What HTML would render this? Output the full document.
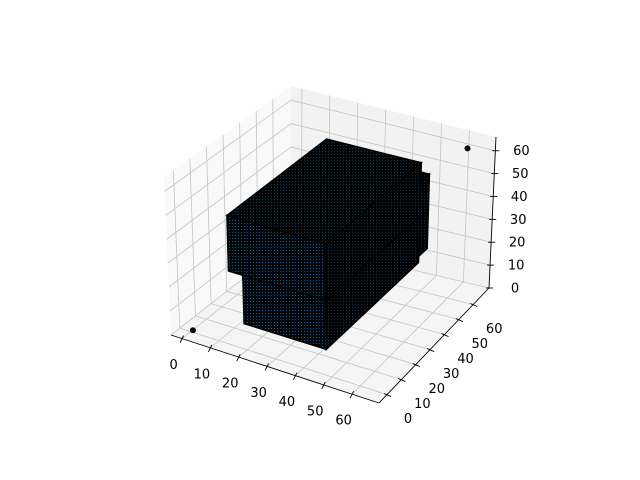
<!DOCTYPE html>
<html><head><meta charset="utf-8"><style>
html,body{margin:0;padding:0;background:#fff;}
svg{display:block;font-family:"DejaVu Sans","Liberation Sans",sans-serif;}
</style></head><body>
<svg id="chart" width="640" height="480" viewBox="0 0 640 480">
<defs>
<pattern id="dotsF" width="3" height="3" patternUnits="userSpaceOnUse"><rect width="3" height="3" fill="#02070b"/><rect x="1" y="1" width="1" height="1" fill="#155a88"/></pattern>
<pattern id="dotsT" width="3" height="3" patternUnits="userSpaceOnUse"><rect width="3" height="3" fill="#020406"/><rect x="1" y="1" width="1" height="1" fill="#0f3a58"/></pattern>
<pattern id="dotsR" width="3" height="3" patternUnits="userSpaceOnUse"><rect width="3" height="3" fill="#010203"/><rect x="1" y="1" width="1" height="1" fill="#0c3250"/></pattern>
</defs>
<g id="panes"></g>
<g id="grid"></g>
<g id="axes"></g>
<g id="voxels"></g>
</svg>
<script>
// data
const xTicks=[0,10,20,30,40,50,60];
const yTicks=[0,10,20,30,40,50,60];
const zTicks=[0,10,20,30,40,50,60];
const boxX0=[13,18,47];
const boxX1=[47,47,50];
const boxY0=[2,2,40];
const boxY1=[64,64,64];
const boxZ0=[29,9,16];
const boxZ1=[52,29,48];
const pointX=[0.5,63.5];
const pointY=[0.5,63.5];
const pointZ=[0.5,63.5];

const XL=[-3.9,69.5],YL=[-5.6,71],ZL=[0,66];
const C={c000:[171,335],c100:[379,403],c110:[489,288],c010:[291,241],
c001:[164,177],c101:[379,238],c111:[496,137],c011:[291,86]};
function P(x,y,z){
 const u=(x-XL[0])/(XL[1]-XL[0]),v=(y-YL[0])/(YL[1]-YL[0]),w=(z-ZL[0])/(ZL[1]-ZL[0]);
 function bil(a,b,c,d){return [0,1].map(i=>a[i]*(1-u)*(1-v)+b[i]*u*(1-v)+c[i]*u*v+d[i]*(1-u)*v);}
 const lo=bil(C.c000,C.c100,C.c110,C.c010),hi=bil(C.c001,C.c101,C.c111,C.c011);
 return [lo[0]*(1-w)+hi[0]*w,lo[1]*(1-w)+hi[1]*w];
}
const NS='http://www.w3.org/2000/svg';
function mk(tag,attrs,parent){const e=document.createElementNS(NS,tag);for(const k in attrs)e.setAttribute(k,attrs[k]);parent.appendChild(e);return e;}
function poly(pts){return pts.map(p=>p[0].toFixed(1)+','+p[1].toFixed(1)).join(' ');}
const panes=document.getElementById('panes'),grid=document.getElementById('grid'),axes=document.getElementById('axes'),vox=document.getElementById('voxels');
let e;
e=mk('polygon',{points:poly([P(XL[0],YL[0],ZL[0]),P(XL[0],YL[1],ZL[0]),P(XL[0],YL[1],ZL[1]),P(XL[0],YL[0],ZL[1])]),fill:'#f9f9f9'},panes);


e=mk('polygon',{points:poly([P(XL[0],YL[1],ZL[0]),P(XL[1],YL[1],ZL[0]),P(XL[1],YL[1],ZL[1]),P(XL[0],YL[1],ZL[1])]),fill:'#f2f2f2'},panes);


e=mk('polygon',{points:poly([P(XL[0],YL[0],ZL[0]),P(XL[1],YL[0],ZL[0]),P(XL[1],YL[1],ZL[0]),P(XL[0],YL[1],ZL[0])]),fill:'#f5f5f5'},panes);


function line(a,b,col,w,parent,name){const l=mk('line',{x1:a[0],y1:a[1],x2:b[0],y2:b[1],stroke:col,'stroke-width':w},parent);


return l;}
const gc='#c4c4c4';
xTicks.forEach(t=>{line(P(t,YL[0],ZL[0]),P(t,YL[1],ZL[0]),gc,0.8,grid,'x-gridline');line(P(t,YL[1],ZL[0]),P(t,YL[1],ZL[1]),gc,0.8,grid,'x-gridline');});
yTicks.forEach(t=>{line(P(XL[0],t,ZL[0]),P(XL[1],t,ZL[0]),gc,0.8,grid,'y-gridline');line(P(XL[0],t,ZL[0]),P(XL[0],t,ZL[1]),gc,0.8,grid,'y-gridline');});
zTicks.forEach(t=>{line(P(XL[0],YL[0],t),P(XL[0],YL[1],t),gc,0.8,grid,'z-gridline');line(P(XL[0],YL[1],t),P(XL[1],YL[1],t),gc,0.8,grid,'z-gridline');});
line(P(XL[0],YL[0],ZL[0]),P(XL[1],YL[0],ZL[0]),'#000',0.9,axes,'x-axis-line');
line(P(XL[1],YL[0],ZL[0]),P(XL[1],YL[1],ZL[0]),'#000',0.9,axes,'y-axis-line');
line(P(XL[1],YL[1],ZL[0]),P(XL[1],YL[1],ZL[1]),'#000',0.9,axes,'z-axis-line');
function label(p,txt,name){const t=mk('text',{x:p[0].toFixed(1),y:p[1].toFixed(1),'font-size':'13','text-anchor':'middle','dominant-baseline':'central',fill:'#000'},axes);t.textContent=txt;

}
xTicks.forEach(t=>{const p=P(t,YL[0],ZL[0]);line([p[0]+1.5,p[1]-3],[p[0]-2,p[1]+4],'#000',0.9,axes,'x-tick');label([p[0]-8.5,p[1]+27],String(t),'x-tick-label');});
yTicks.forEach(t=>{const p=P(XL[1],t,ZL[0]);line([p[0]-3,p[1]-1],[p[0]+4,p[1]+2],'#000',0.9,axes,'y-tick');label([p[0]+21,p[1]+25],String(t),'y-tick-label');});
zTicks.forEach(t=>{const p=P(XL[1],YL[1],t);line([p[0]-3,p[1]],[p[0]+4,p[1]],'#000',0.9,axes,'z-tick');label([p[0]+26,p[1]+1],String(t),'z-tick-label');});
// voxel boxes, far first
const order=boxX0.map((_,i)=>i).sort((a,b)=>{
 const d=i=>((boxX0[i]+boxX1[i])*0.5-(boxY0[i]+boxY1[i])*0.87+(boxZ0[i]+boxZ1[i])*0.5);return d(a)-d(b);});
order.forEach(i=>{
 const x0=boxX0[i],x1=boxX1[i],y0=boxY0[i],y1=boxY1[i],z0=boxZ0[i],z1=boxZ1[i];
 const g=mk('g',{},vox);
 
 
 let f=mk('polygon',{points:poly([P(x0,y0,z0),P(x1,y0,z0),P(x1,y0,z1),P(x0,y0,z1)]),fill:'url(#dotsF)',stroke:'#000','stroke-width':1.5},g);
 
 
 f=mk('polygon',{points:poly([P(x1,y0,z0),P(x1,y1,z0),P(x1,y1,z1),P(x1,y0,z1)]),fill:'url(#dotsR)',stroke:'#000','stroke-width':1.5},g);
 
 
 f=mk('polygon',{points:poly([P(x0,y0,z1),P(x1,y0,z1),P(x1,y1,z1),P(x0,y1,z1)]),fill:'url(#dotsT)',stroke:'#000','stroke-width':1.5},g);
 
 
});
pointX.forEach((x,i)=>{const p=P(x,pointY[i],pointZ[i]);const c=mk('circle',{cx:p[0],cy:p[1],r:3,fill:'#0a0a0a'},vox);

});
</script>
</body></html>
